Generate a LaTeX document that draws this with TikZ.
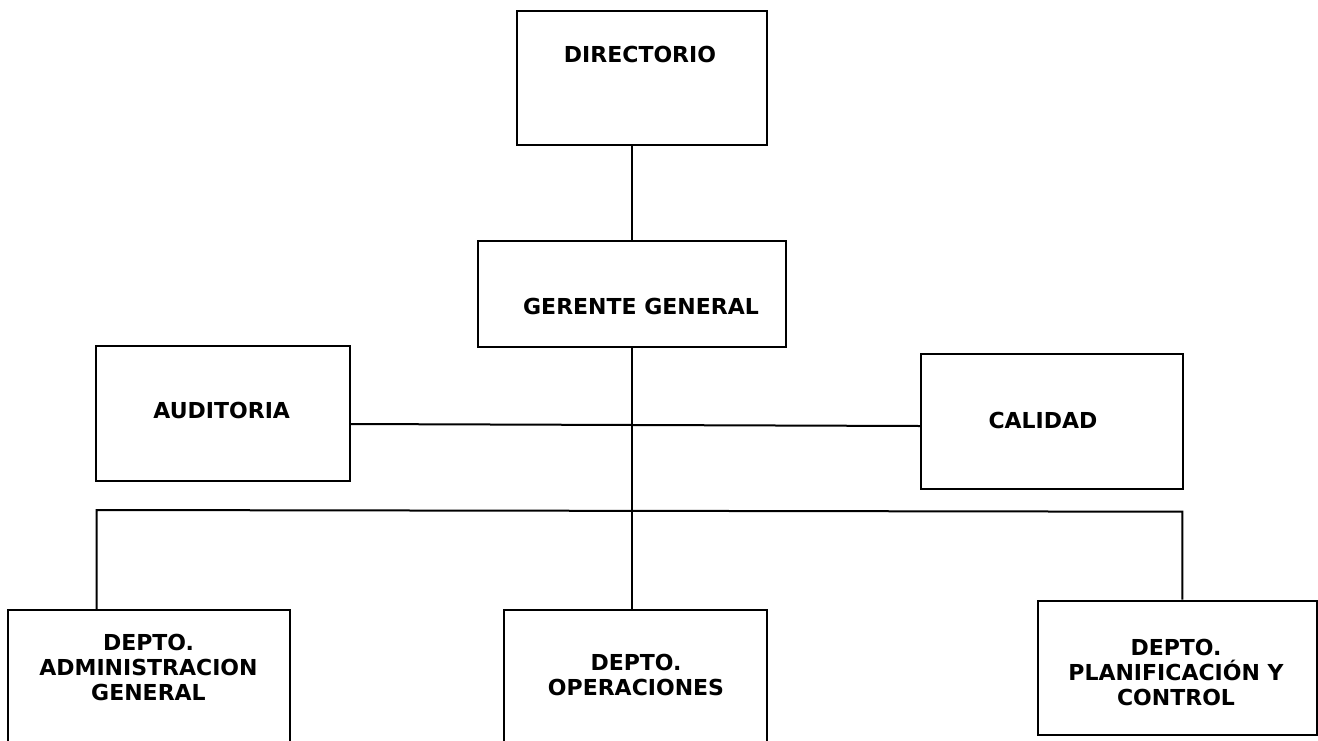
\documentclass[tikz,border=0pt]{standalone}
\usepackage{fontspec}
\setmainfont{DejaVu Sans}
\begin{document}
\begin{tikzpicture}[x=1pt,y=-1pt,
  box/.style={draw=black,line width=2pt,minimum width=#1,inner sep=0pt},
  lbl/.style={font=\fontsize{22}{25}\selectfont\bfseries,align=center,inner sep=0pt,text=black},
  conn/.style={draw=black,line width=2pt}]
\useasboundingbox (0,0) rectangle (1318,740);
\clip (0,0) rectangle (1318,740);
\fill[white] (0,0) rectangle (1318,740);
% boxes
\node[box=250pt,minimum height=134.3pt] (dir) at (641.7,77.85) {};
\node[box=307.7pt,minimum height=106pt] (ger) at (631.85,293.7) {};
\node[box=254pt,minimum height=135pt] (aud) at (223,413.2) {};
\node[box=262pt,minimum height=134.7pt] (cal) at (1051.7,421.65) {};
\node[box=282pt,minimum height=140pt] (adm) at (149,680) {};
\node[box=262.7pt,minimum height=140pt] (ops) at (635.35,680) {};
\node[box=279.3pt,minimum height=134.3pt] (pla) at (1177.35,667.85) {};
% labels
\node[lbl] (tdir) at (640,54.7) {DIRECTORIO};
\node[lbl] (tger) at (641,306) {GERENTE GENERAL};
\node[lbl] (taud) at (221.7,410) {AUDITORIA};
\node[lbl] (tcal) at (1043,420) {CALIDAD};
\node[lbl] (tadm) at (148.5,667.5) {DEPTO.\\ADMINISTRACION\\GENERAL};
\node[lbl] (tops) at (636,675) {DEPTO.\\OPERACIONES};
\node[lbl] (tpla) at (1176,672.5) {DEPTO.\\PLANIFICACIÓN Y\\CONTROL};
% connectors
\coordinate (audR) at (350,424);
\coordinate (calL) at (920.7,426);
\coordinate (busL) at (96.7,510);
\coordinate (busR) at (1182.3,511.7);
\draw[conn] (ger.north) -- (ger.north |- dir.south);
\draw[conn] (ger.south) -- (ger.south |- ops.north);
\draw[conn] (audR) -- (calL);
\draw[conn] (busL |- adm.north) -- (busL) -- (busR) -- (busR |- pla.north);
\end{tikzpicture}
\end{document}
